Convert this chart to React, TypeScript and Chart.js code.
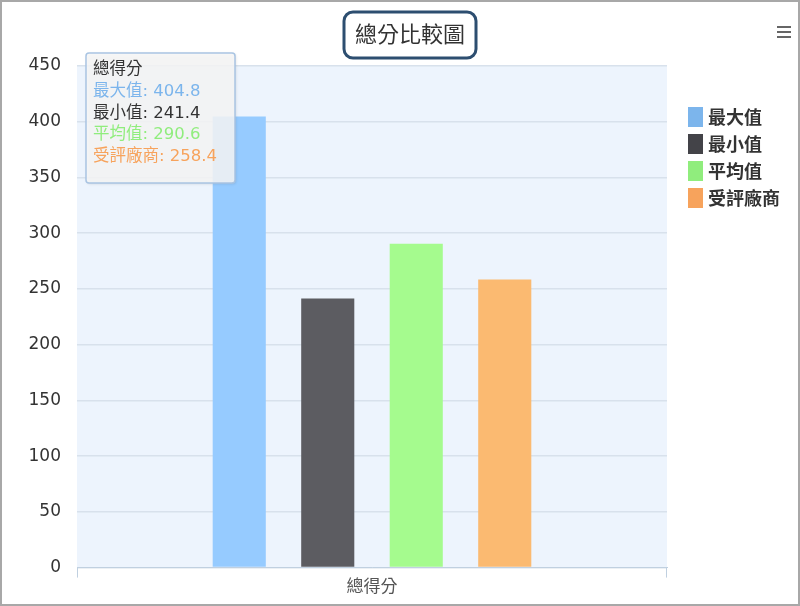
import { useEffect, useRef } from "react";
import { Chart, registerables } from "chart.js";

Chart.register(...registerables);

const categories = ["總得分"];
const seriesNames = ["最大值", "最小值", "平均值", "受評廠商"];
const maxValues = [404.8];
const minValues = [241.4];
const avgValues = [290.6];
const vendorValues = [258.4];
const yTicks = [0, 50, 100, 150, 200, 250, 300, 350, 400, 450];

const chartTitle = "總分比較圖";
const legendColors = ["#7cb5ec", "#434348", "#90ed7d", "#f7a35c"];
const barColors = ["#96cbff", "#5c5c61", "#a5fb8e", "#fbba71"];
const tooltipColors = ["#7cb5ec", "#333333", "#90ed7d", "#f7a35c"];

const CJK = "'Noto Sans CJK TC', 'Noto Sans', sans-serif";
const NUM = "'DejaVu Sans', 'Noto Sans CJK TC', sans-serif";

const decorPlugin = {
  id: "decor",
  beforeDraw(chart: any) {
    const { ctx, chartArea } = chart;
    ctx.save();
    ctx.fillStyle = "#ffffff";
    ctx.fillRect(0, 0, chart.width, chart.height);
    ctx.fillStyle = "#edf4fd";
    ctx.fillRect(chartArea.left, chartArea.top, chartArea.right - chartArea.left, chartArea.bottom - chartArea.top);
    ctx.restore();
  },
  afterDraw(chart: any) {
    const { ctx, chartArea } = chart;
    ctx.save();

    // outer frame
    ctx.strokeStyle = "#a8a8a8";
    ctx.lineWidth = 2;
    ctx.strokeRect(1, 1, chart.width - 2, chart.height - 2);

    // title with rounded box
    ctx.font = `22px ${CJK}`;
    ctx.fillStyle = "#333333";
    ctx.textAlign = "center";
    ctx.textBaseline = "middle";
    ctx.fillText(chartTitle, 410, 34);
    ctx.strokeStyle = "#2d4e70";
    ctx.lineWidth = 3;
    ctx.beginPath();
    ctx.roundRect(344, 12, 132, 46, 9);
    ctx.stroke();

    // menu icon
    ctx.strokeStyle = "#666666";
    ctx.lineWidth = 2;
    for (let i = 0; i < 3; i++) {
      const y = 27 + i * 5;
      ctx.beginPath();
      ctx.moveTo(777, y);
      ctx.lineTo(791, y);
      ctx.stroke();
    }

    // legend
    chart.data.datasets.forEach((ds: any, i: number) => {
      const y = 107 + i * 27;
      ctx.fillStyle = legendColors[i];
      ctx.fillRect(688, y, 15, 20);
      ctx.fillStyle = "#333333";
      ctx.font = `bold 18px ${CJK}`;
      ctx.textAlign = "left";
      ctx.textBaseline = "middle";
      ctx.fillText(ds.label, 708, y + 10);
    });

    // x axis end ticks
    ctx.strokeStyle = "#c0d0e0";
    ctx.lineWidth = 1;
    [chartArea.left + 0.5, chartArea.right - 0.5].forEach((x) => {
      ctx.beginPath();
      ctx.moveTo(x, chartArea.bottom);
      ctx.lineTo(x, chartArea.bottom + 10);
      ctx.stroke();
    });

    // tooltip box
    const bx = 86, by = 53, bw = 149, bh = 130;
    ctx.shadowColor = "rgba(0,0,0,0.15)";
    ctx.shadowOffsetX = 1;
    ctx.shadowOffsetY = 1;
    ctx.shadowBlur = 3;
    ctx.fillStyle = "rgba(248,248,248,0.85)";
    ctx.beginPath();
    ctx.roundRect(bx, by, bw, bh, 3);
    ctx.fill();
    ctx.shadowColor = "transparent";
    ctx.strokeStyle = "#a9c4e2";
    ctx.lineWidth = 1.5;
    ctx.stroke();

    ctx.textAlign = "left";
    ctx.textBaseline = "middle";
    ctx.font = `16.5px ${NUM}`;
    ctx.fillStyle = "#333333";
    ctx.fillText(categories[0], 93, 70);
    chart.data.datasets.forEach((ds: any, i: number) => {
      ctx.fillStyle = tooltipColors[i];
      ctx.fillText(`${ds.label}: ${ds.data[0]}`, 93, 92 + i * 21.5);
    });

    ctx.restore();
  },
};

export default function App() {
  const canvasRef = useRef<HTMLCanvasElement | null>(null);
  const chartRef = useRef<Chart | null>(null);

  useEffect(() => {
    document.body.style.margin = "0";
    if (!canvasRef.current) return;
    if (chartRef.current) chartRef.current.destroy();

    const seriesValues = [maxValues, minValues, avgValues, vendorValues];

    chartRef.current = new Chart(canvasRef.current, {
      type: "bar",
      data: {
        labels: categories,
        datasets: seriesNames.map((name, i) => ({
          label: name,
          data: seriesValues[i],
          backgroundColor: barColors[i],
          borderWidth: 0,
          categoryPercentage: 0.6,
          barPercentage: 0.6,
        })),
      },
      options: {
        responsive: false,
        animation: false,
        events: [],
        layout: { padding: { top: 66, right: 133, bottom: 2, left: 0 } },
        plugins: {
          legend: { display: false },
          title: { display: false },
          tooltip: { enabled: false },
        },
        scales: {
          x: {
            grid: { display: false, drawTicks: false },
            border: { display: true, color: "#c0d0e0", width: 1 },
            ticks: {
              padding: 8,
              color: "#555555",
              font: { size: 17, family: CJK },
            },
          },
          y: {
            min: 0,
            max: 450,
            afterBuildTicks: (scale: any) => {
              scale.ticks = yTicks.map((v) => ({ value: v }));
            },
            afterFit: (scale: any) => {
              scale.width = 77;
            },
            grid: { color: "#d8e1ec", lineWidth: 1.5, drawTicks: false },
            border: { display: false },
            ticks: {
              padding: 16,
              color: "#333333",
              font: { size: 17, family: NUM },
            },
          },
        },
      },
      plugins: [decorPlugin],
    });

    return () => {
      chartRef.current?.destroy();
      chartRef.current = null;
    };
  }, []);

  return (
    <div style={{ width: 800, height: 606 }}>
      <canvas ref={canvasRef} width={800} height={606} style={{ display: "block" }} />
    </div>
  );
}
